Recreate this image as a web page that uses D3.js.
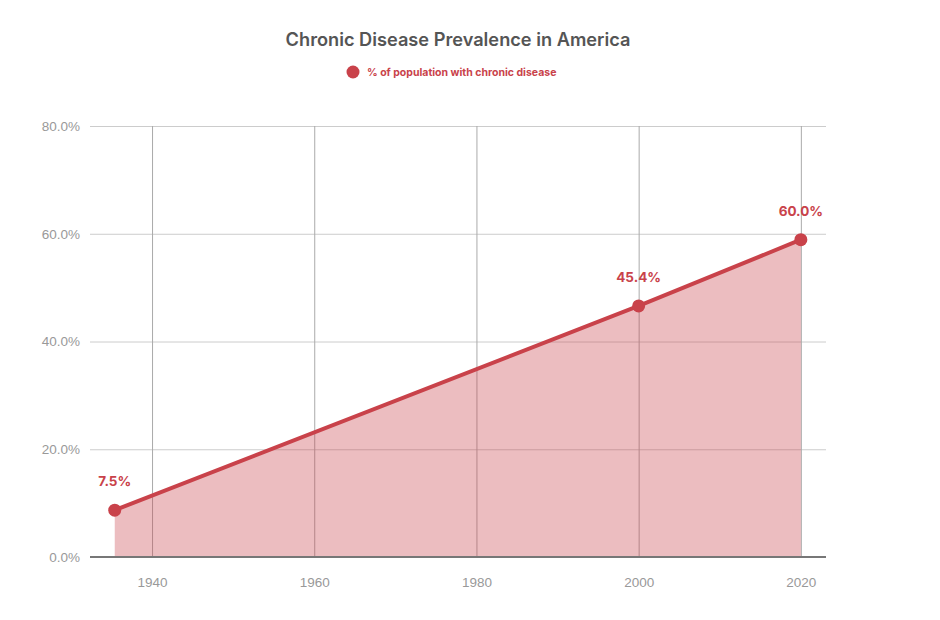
<!DOCTYPE html>
<html><head><meta charset="utf-8">
<script src="https://cdn.jsdelivr.net/npm/d3@7"></script>
<style>
body{margin:0;background:#fff;}
svg{display:block;font-family:"Inter","Noto Sans",sans-serif;}
</style></head>
<body>
<svg id="chart" width="940" height="620"></svg>
<script>
const years = [1935.4, 2000, 2020];
const values = [8.7, 46.6, 58.9];
const valueLabels = ["7.5%", "45.4%", "60.0%"];
const xTicks = [1940, 1960, 1980, 2000, 2020];
const yTicks = [0, 20, 40, 60, 80];
const seriesName = "% of population with chronic disease";
const title = "Chronic Disease Prevalence in America";

(function () {
const svg = d3.select("#chart");
const mL = 90, mR = 826, mT = 126, mB = 557;
const x = d3.scaleLinear().domain([1932.35, 2023.1]).range([mL, mR]);
const y = d3.scaleLinear().domain([0, 80]).range([mB, mT]);
const red = "#c9424a";

svg.append("text").attr("x", 458).attr("y", 46).attr("text-anchor", "middle")
  .attr("font-size", 18.2).attr("font-weight", 600).attr("fill", "#555").text(title);
svg.append("circle").attr("cx", 353).attr("cy", 72).attr("r", 6.5).attr("fill", red);
svg.append("text").attr("x", 367).attr("y", 76).attr("font-size", 10.5).attr("font-weight", 700)
  .attr("fill", red).text(seriesName);

const gy = svg.append("g").attr("transform", `translate(${mL},0)`)
  .call(d3.axisLeft(y).tickValues(yTicks).tickSize(-(mR - mL)).tickFormat(d => d.toFixed(1) + "%"));
gy.select(".domain").remove();
gy.selectAll(".tick line").attr("stroke", "#ccc").attr("stroke-width", 1);
gy.selectAll(".tick text").attr("x", -10).attr("fill", "#999").attr("font-size", 13.5).attr("font-weight", 300);

const gx = svg.append("g").attr("transform", `translate(0,${mB})`)
  .call(d3.axisBottom(x).tickValues(xTicks).tickSize(-(mB - mT)).tickFormat(d3.format("d")));
gx.select(".domain").remove();
gx.selectAll(".tick line").attr("stroke", "#aaa").attr("stroke-width", 1);
gx.selectAll(".tick text").attr("y", 20).attr("fill", "#999").attr("font-size", 13.5).attr("font-weight", 300);

const data = years.map((yr, i) => ({yr, v: values[i], label: valueLabels[i]}));

svg.append("path").datum(data)
  .attr("d", d3.area().x(d => x(d.yr)).y0(y(0)).y1(d => y(d.v)))
  .attr("fill", "rgba(201,66,74,0.35)");

svg.append("line").attr("x1", mL).attr("x2", mR).attr("y1", mB).attr("y2", mB)
  .attr("stroke", "#777").attr("stroke-width", 2);

svg.append("path").datum(data)
  .attr("d", d3.line().x(d => x(d.yr)).y(d => y(d.v)))
  .attr("fill", "none").attr("stroke", red).attr("stroke-width", 4);

svg.selectAll(".pt").data(data).enter().append("circle")
  .attr("cx", d => x(d.yr)).attr("cy", d => y(d.v)).attr("r", 6.5).attr("fill", red);

svg.selectAll(".lbl").data(data).enter().append("text")
  .attr("x", d => x(d.yr)).attr("y", d => y(d.v) - 24).attr("text-anchor", "middle")
  .attr("font-size", 13.5).attr("font-weight", 700).attr("fill", red).text(d => d.label);
})();
</script>
</body></html>
